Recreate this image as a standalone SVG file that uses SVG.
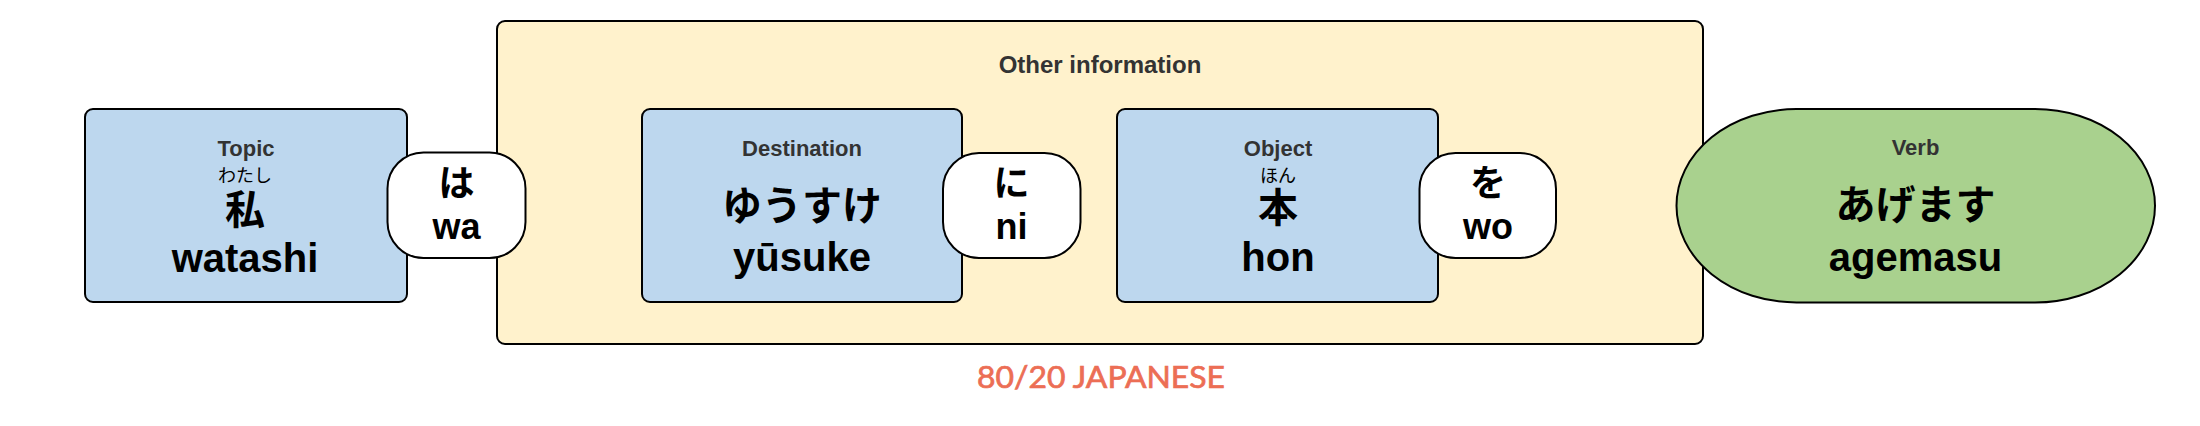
<svg xmlns="http://www.w3.org/2000/svg" width="2200" height="426" viewBox="0 0 2200 426">
<style>
.box{fill:#BDD7EE;stroke:#000;stroke-width:2}
.bub{fill:#fff;stroke:#000;stroke-width:2}
.lbl{font-family:"Liberation Sans","Noto Sans CJK JP",sans-serif;font-weight:bold;font-size:22px;fill:#333;text-anchor:middle}
.furi{font-family:"Noto Sans CJK JP","Liberation Sans",sans-serif;font-size:18px;fill:#000;text-anchor:middle}
.big{font-family:"Liberation Sans","Noto Sans CJK JP",sans-serif;font-weight:bold;font-size:40px;fill:#000;text-anchor:middle}
.jp{font-family:"Noto Sans CJK JP",sans-serif;font-weight:bold;font-size:40px;fill:#000;text-anchor:middle}
.pt{font-family:"Liberation Sans","Noto Sans CJK JP",sans-serif;font-weight:bold;font-size:36px;fill:#000;text-anchor:middle}
.ptj{font-family:"Noto Sans CJK JP",sans-serif;font-weight:bold;font-size:36px;fill:#000;text-anchor:middle}
</style>
<rect width="2200" height="426" fill="#fff"/>
<g id="other-information">
<rect x="497" y="21" width="1206" height="323" rx="8" fill="#FFF2CC" stroke="#000" stroke-width="2"/>
<text class="lbl" x="1100" y="73" style="font-size:24px">Other information</text>
</g>
<g id="topic">
<rect class="box" x="85" y="109" width="322" height="193" rx="8"/>
<text class="lbl" x="246" y="155.5">Topic</text>
<text class="furi" x="245" y="182">わたし</text>
<text class="jp" x="245" y="224">私</text>
<text class="big" x="245" y="271.5">watashi</text>
</g>
<g id="destination">
<rect class="box" x="642" y="109" width="320" height="193" rx="8"/>
<text class="lbl" x="802" y="155.5">Destination</text>
<text class="jp" x="802" y="220">ゆうすけ</text>
<text class="big" x="802" y="271">yūsuke</text>
</g>
<g id="object">
<rect class="box" x="1117" y="109" width="321" height="193" rx="8"/>
<text class="lbl" x="1278" y="155.5">Object</text>
<text class="furi" x="1278" y="182">ほん</text>
<text class="jp" x="1278" y="222">本</text>
<text class="big" x="1278" y="271">hon</text>
</g>
<g id="particle-wa">
<rect class="bub" x="387.5" y="152.5" width="138" height="105.5" rx="36"/>
<text class="ptj" x="456.5" y="196">は</text>
<text class="pt" x="456.5" y="239">wa</text>
</g>
<g id="particle-ni">
<rect class="bub" x="943" y="153" width="137.5" height="105" rx="36"/>
<text class="ptj" x="1011.5" y="196">に</text>
<text class="pt" x="1011.5" y="239">ni</text>
</g>
<g id="particle-wo">
<rect class="bub" x="1419.5" y="153" width="136.5" height="105" rx="36"/>
<text class="ptj" x="1488" y="196">を</text>
<text class="pt" x="1488" y="239">wo</text>
</g>
<g id="verb">
<rect x="1676.5" y="109" width="478.5" height="193.5" rx="120" ry="96.75" fill="#A9D18E" stroke="#000" stroke-width="2"/>
<text class="lbl" x="1915.5" y="155">Verb</text>
<text class="jp" x="1915.5" y="219">あげます</text>
<text class="big" x="1915.5" y="271">agemasu</text>
</g>
<g id="connectors"/>
<text x="1101" y="388" font-family="Lato, 'Open Sans', sans-serif" font-size="31" fill="#EC6E55" stroke="#EC6E55" stroke-width="0.7" text-anchor="middle" textLength="248" lengthAdjust="spacingAndGlyphs">80/20 JAPANESE</text>
</svg>
